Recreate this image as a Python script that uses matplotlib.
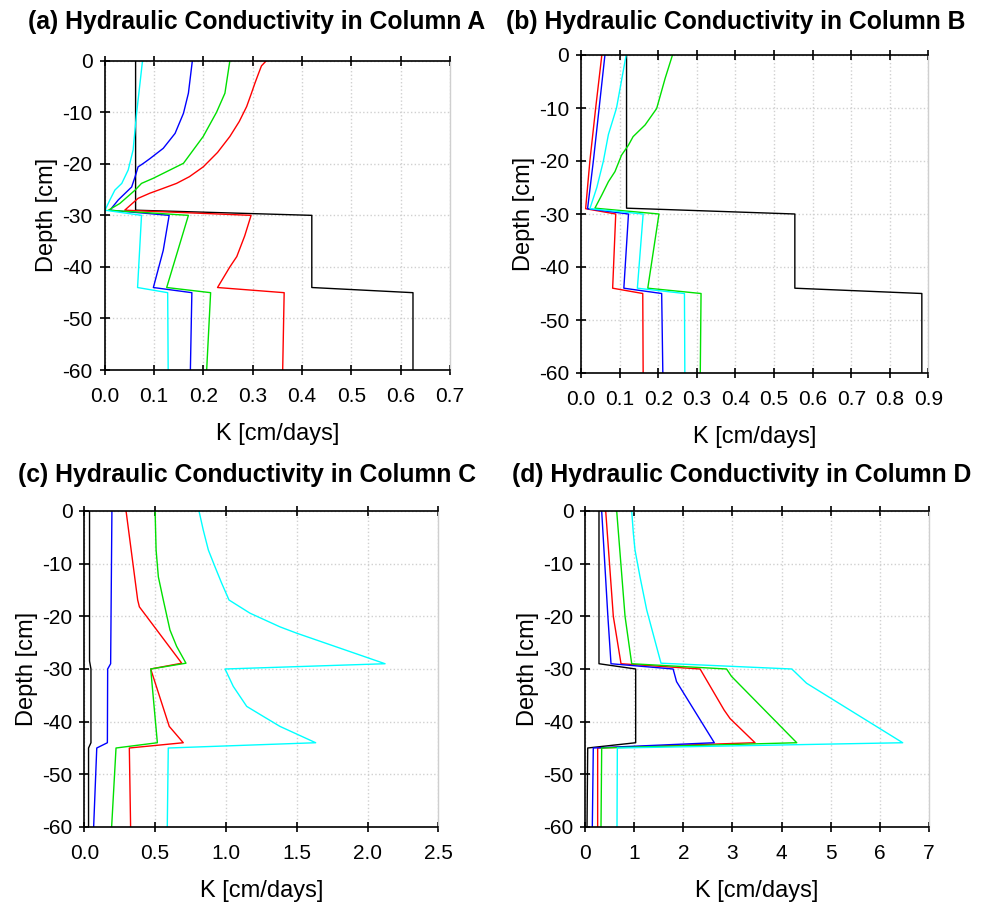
import matplotlib
matplotlib.use("Agg")
import matplotlib.pyplot as plt
from matplotlib.ticker import FormatStrFormatter

plt.rcParams['font.family'] = ['Liberation Sans', 'DejaVu Sans']
plt.rcParams['axes.unicode_minus'] = False

# ---------------- Panel A data ----------------
a_black_k = [0.063, 0.063, 0.42, 0.42, 0.625, 0.625]
a_black_d = [0, -29, -30, -44, -45, -60]
a_red_k = [0.328, 0.318, 0.312, 0.305, 0.297, 0.288, 0.273, 0.254, 0.229, 0.200, 0.172, 0.146, 0.115, 0.092, 0.068, 0.041, 0.297, 0.284, 0.268, 0.254, 0.229, 0.364, 0.361]
a_red_d = [0, -1, -2.5, -4.3, -6.5, -8.9, -11.8, -14.7, -17.8, -20.6, -22.5, -23.8, -24.9, -25.7, -26.7, -29, -30, -34, -38, -40, -44, -45, -60]
a_blue_k = [0.178, 0.170, 0.160, 0.143, 0.119, 0.092, 0.079, 0.068, 0.062, 0.055, 0.028, 0.011, 0.131, 0.119, 0.099, 0.177, 0.174]
a_blue_d = [0, -6.3, -10.2, -14.1, -17, -19, -19.9, -20.6, -22.5, -24.5, -27, -29, -30, -36.8, -44, -45, -60]
a_green_k = [0.254, 0.244, 0.227, 0.200, 0.160, 0.099, 0.075, 0.062, 0.031, 0.008, 0.170, 0.148, 0.126, 0.215, 0.207]
a_green_d = [0, -6.3, -10, -14.7, -19.9, -22.8, -23.8, -25.1, -27.7, -29, -30, -37, -44, -45, -60]
a_cyan_k = [0.077, 0.072, 0.065, 0.058, 0.048, 0.035, 0.021, 0.011, 0.001, 0.075, 0.067, 0.128, 0.129]
a_cyan_d = [0, -4.3, -10.2, -17.3, -21.2, -23.8, -25.1, -27, -29, -30, -44, -45, -60]

# ---------------- Panel B data ----------------
b_black_k = [0.118, 0.118, 0.554, 0.554, 0.883, 0.883]
b_black_d = [0, -28.9, -30, -44, -45, -60]
b_red_k = [0.054, 0.038, 0.023, 0.012, 0.090, 0.082, 0.160, 0.161]
b_red_d = [0, -10, -20, -29, -30, -44, -45, -60]
b_blue_k = [0.062, 0.047, 0.032, 0.017, 0.123, 0.111, 0.209, 0.212]
b_blue_d = [0, -10, -20, -29, -30, -44, -45, -60]
b_green_k = [0.237, 0.218, 0.196, 0.166, 0.135, 0.123, 0.105, 0.088, 0.071, 0.054, 0.036, 0.202, 0.173, 0.311, 0.309]
b_green_d = [0, -4.4, -10.1, -13.2, -15.4, -17, -18.9, -22, -23.9, -26.4, -28.9, -30, -44, -45, -60]
b_cyan_k = [0.117, 0.092, 0.071, 0.058, 0.041, 0.023, 0.161, 0.146, 0.268, 0.269]
b_cyan_d = [0, -10, -15, -20, -25, -29, -30, -44, -45, -60]

# ---------------- Panel C data ----------------
c_black_k = [0.037, 0.037, 0.047, 0.047, 0.03, 0.03]
c_black_d = [0, -28.5, -30, -44, -45, -60]
c_red_k = [0.295, 0.377, 0.389, 0.688, 0.469, 0.600, 0.699, 0.318, 0.327]
c_red_d = [0, -16.9, -18.2, -28.9, -30, -40.9, -44, -45, -60]
c_blue_k = [0.195, 0.186, 0.165, 0.163, 0.088, 0.066]
c_blue_d = [0, -29, -30, -44, -45, -60]
c_green_k = [0.500, 0.507, 0.523, 0.558, 0.605, 0.652, 0.718, 0.469, 0.516, 0.224, 0.193]
c_green_d = [0, -7.4, -12.5, -16.9, -22.6, -25.7, -28.9, -30, -44, -45, -60]
c_cyan_k = [0.810, 0.840, 0.876, 0.923, 0.970, 1.022, 1.170, 1.382, 1.500, 2.124, 0.994, 1.052, 1.147, 1.264, 1.382, 1.634, 0.593, 0.586]
c_cyan_d = [0, -3.6, -7.4, -10.6, -13.7, -16.9, -19.4, -22, -23.2, -29, -30, -33.3, -37.1, -39, -40.9, -44, -45, -60]

# ---------------- Panel D data ----------------
d_black_k = [0.279, 0.279, 1.027, 1.027, 0.049, 0.035]
d_black_d = [0, -29, -30, -44, -45, -60]
d_red_k = [0.416, 0.571, 0.728, 2.34, 2.83, 2.95, 3.46, 0.252, 0.252]
d_red_d = [0, -20, -29, -30, -37.8, -39.4, -44, -45, -60]
d_blue_k = [0.334, 0.46, 0.524, 1.79, 1.86, 2.63, 0.163, 0.143]
d_blue_d = [0, -20, -29, -30, -32.4, -44, -45, -60]
d_green_k = [0.64, 0.81, 0.946, 2.88, 2.98, 4.31, 0.334, 0.32]
d_green_d = [0, -20, -29, -30, -31.4, -44, -45, -60]
d_cyan_k = [0.946, 0.979, 1.013, 1.115, 1.252, 1.543, 4.21, 4.51, 6.47, 0.653, 0.646]
d_cyan_d = [0, -4.2, -7.4, -12.5, -18.8, -28.9, -30, -32.7, -44, -45, -60]

titles = ["(a) Hydraulic Conductivity in Column A",
          "(b) Hydraulic Conductivity in Column B",
          "(c) Hydraulic Conductivity in Column C",
          "(d) Hydraulic Conductivity in Column D"]
x_label = "K [cm/days]"
y_label = "Depth [cm]"
y_ticks = [0, -10, -20, -30, -40, -50, -60]
a_xticks = [0.0, 0.1, 0.2, 0.3, 0.4, 0.5, 0.6, 0.7]
b_xticks = [0.0, 0.1, 0.2, 0.3, 0.4, 0.5, 0.6, 0.7, 0.8, 0.9]
c_xticks = [0.0, 0.5, 1.0, 1.5, 2.0, 2.5]
d_xticks = [0, 1, 2, 3, 4, 5, 6, 7]

colors = ['black', '#ff0000', '#0000ff', '#00e000', '#00ffff']

W, H = 988, 902
fig = plt.figure(figsize=(W / 100, H / 100), dpi=100)


def make_ax(l, r, t, b):
    return fig.add_axes([l / W, 1 - b / H, (r - l) / W, (b - t) / H])


panels = [
    (make_ax(104.5, 450, 60.7, 370), a_xticks, '%.1f',
     [(a_black_k, a_black_d), (a_red_k, a_red_d), (a_blue_k, a_blue_d), (a_green_k, a_green_d), (a_cyan_k, a_cyan_d)]),
    (make_ax(581, 928.4, 55, 373), b_xticks, '%.1f',
     [(b_black_k, b_black_d), (b_red_k, b_red_d), (b_blue_k, b_blue_d), (b_green_k, b_green_d), (b_cyan_k, b_cyan_d)]),
    (make_ax(84.3, 438.3, 511, 827), c_xticks, '%.1f',
     [(c_black_k, c_black_d), (c_red_k, c_red_d), (c_blue_k, c_blue_d), (c_green_k, c_green_d), (c_cyan_k, c_cyan_d)]),
    (make_ax(585.3, 928.7, 511, 827), d_xticks, '%d',
     [(d_black_k, d_black_d), (d_red_k, d_red_d), (d_blue_k, d_blue_d), (d_green_k, d_green_d), (d_cyan_k, d_cyan_d)]),
]

for ax, xt, fmt, series in panels:
    for (k, d), c in zip(series, colors):
        ax.plot(k, d, color=c, lw=1.0)
    ax.set_xlim(xt[0], xt[-1])
    ax.set_ylim(-60, 0)
    ax.set_xticks(xt)
    ax.set_yticks(y_ticks)
    ax.xaxis.set_major_formatter(FormatStrFormatter(fmt))
    ax.grid(True, color='#d0d0d0', linestyle=':', linewidth=1.0)
    ax.tick_params(axis='both', direction='inout', length=7, width=1.2,
                   labelsize=15, top=True, right=False, colors='black')
    ax.tick_params(axis='x', pad=9)
    ax.tick_params(axis='y', pad=5)
    for s in ['left', 'bottom', 'top']:
        ax.spines[s].set_linewidth(1.2)
    ax.spines['right'].set_color('#cfcfcf')
    ax.spines['right'].set_linewidth(1.0)
    ax.set_xlabel(x_label, fontsize=17, labelpad=12)
    ax.set_ylabel(y_label, fontsize=17, labelpad=3)

for (x, y), t in zip([(28, 22), (506, 22), (18, 475), (512, 475)], titles):
    fig.text(x / W, 1 - y / H, t, fontsize=17.8, fontweight='bold', ha='left', va='center')

fig.savefig("out.png", dpi=100)
